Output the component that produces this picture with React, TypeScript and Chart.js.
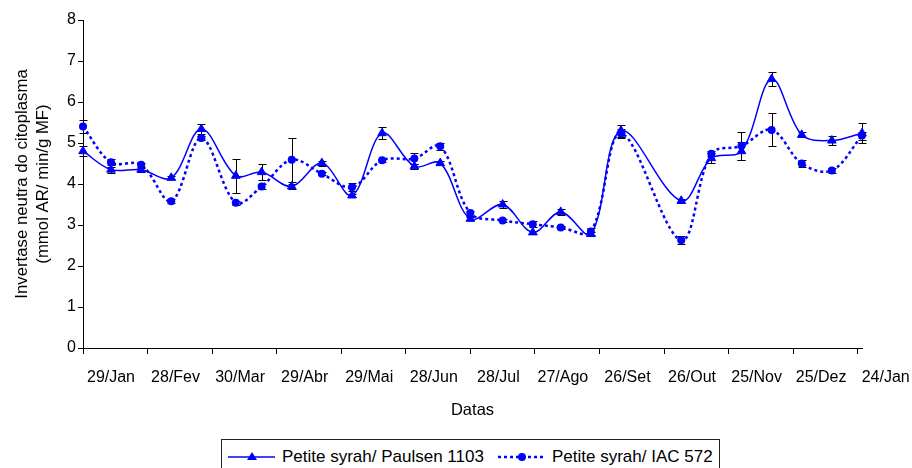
import React, { useEffect, useRef } from 'react';
import { Chart, registerables } from 'chart.js';

Chart.register(...registerables);

// days after 29/Jan
const sampleDays = [0, 13, 27, 41, 55, 71, 83, 97, 111, 125, 139, 154, 166, 180, 195, 209, 222, 236, 250, 278, 292, 306, 320, 334, 348, 362];
const paulsenValues = [4.80, 4.35, 4.35, 4.15, 5.34, 4.20, 4.29, 3.94, 4.51, 3.72, 5.24, 4.43, 4.51, 3.15, 3.50, 2.82, 3.32, 2.78, 5.30, 3.59, 4.63, 4.80, 6.56, 5.20, 5.06, 5.24];
const paulsenErrors = [0.12, 0.07, 0.05, 0.04, 0.12, 0.41, 0.19, 0.05, 0.06, 0.04, 0.15, 0.06, 0.05, 0.04, 0.08, 0.04, 0.08, 0.04, 0.15, 0.05, 0.12, 0.22, 0.18, 0.06, 0.12, 0.25];
const iacValues = [5.40, 4.53, 4.47, 3.58, 5.12, 3.54, 3.94, 4.59, 4.25, 3.92, 4.58, 4.62, 4.92, 3.29, 3.11, 3.02, 2.94, 2.84, 5.23, 2.63, 4.74, 4.93, 5.32, 4.50, 4.33, 5.18];
const iacErrors = [0.15, 0.07, 0.05, 0.05, 0.05, 0.04, 0.05, 0.54, 0.04, 0.10, 0.04, 0.14, 0.08, 0.06, 0.04, 0.07, 0.04, 0.08, 0.10, 0.10, 0.06, 0.35, 0.40, 0.08, 0.07, 0.10];
const tickLabels = ['29/Jan', '28/Fev', '30/Mar', '29/Abr', '29/Mai', '28/Jun', '28/Jul', '27/Ago', '26/Set', '26/Out', '25/Nov', '25/Dez', '24/Jan'];
const tickStepDays = 30;
const seriesNames = ['Petite syrah/ Paulsen 1103', 'Petite syrah/ IAC 572'];
const yTitle = ['Invertase neutra do citoplasma', '(mmol AR/ min/g MF)'];
const xTitle = 'Datas';

const BLUE = '#0000ff';
const FONT = "'Liberation Sans', Arial, sans-serif";

const errorLists = [paulsenErrors, iacErrors];

const errorBarPlugin = {
  id: 'errorBars',
  beforeDatasetsDraw(chart: any) {
    const { ctx } = chart;
    const xs = chart.scales.x;
    const ys = chart.scales.y;
    ctx.save();
    ctx.strokeStyle = '#000';
    ctx.lineWidth = 1;
    chart.data.datasets.forEach((ds: any, i: number) => {
      const errs = errorLists[i];
      ds.data.forEach((p: any, j: number) => {
        const e = errs[j];
        const x = Math.round(xs.getPixelForValue(p.x)) + 0.5;
        const yt = Math.round(ys.getPixelForValue(p.y + e)) + 0.5;
        const yb = Math.round(ys.getPixelForValue(p.y - e)) + 0.5;
        ctx.beginPath();
        ctx.moveTo(x, yt);
        ctx.lineTo(x, yb);
        ctx.moveTo(x - 4, yt);
        ctx.lineTo(x + 4, yt);
        ctx.moveTo(x - 4, yb);
        ctx.lineTo(x + 4, yb);
        ctx.stroke();
      });
    });
    ctx.restore();
  },
};

export default function App() {
  const ref = useRef<HTMLCanvasElement | null>(null);

  useEffect(() => {
    if (!ref.current) return;
    const chart = new Chart(ref.current, {
      type: 'line',
      data: {
        datasets: [
          {
            label: seriesNames[0],
            data: sampleDays.map((d, i) => ({ x: d, y: paulsenValues[i] })),
            borderColor: BLUE,
            backgroundColor: BLUE,
            borderWidth: 1.5,
            pointStyle: 'triangle',
            pointRadius: 5,
            pointBorderWidth: 1,
            tension: 0.35,
            clip: false,
            order: 0,
          },
          {
            label: seriesNames[1],
            data: sampleDays.map((d, i) => ({ x: d, y: iacValues[i] })),
            borderColor: BLUE,
            backgroundColor: BLUE,
            borderWidth: 2.5,
            borderDash: [3, 3],
            pointStyle: 'circle',
            pointRadius: 4,
            pointBorderWidth: 0,
            tension: 0.35,
            clip: false,
            order: 1,
          },
        ],
      },
      options: {
        animation: false,
        responsive: false,
        devicePixelRatio: 1,
        layout: { padding: { left: 0, top: 20, right: 50, bottom: 48 } },
        plugins: {
          legend: { display: false },
          tooltip: { enabled: false },
        },
        scales: {
          x: {
            type: 'linear',
            min: 0,
            max: 362,
            afterFit: (s: any) => { s.height = 72; },
            border: { display: true, color: '#000', width: 1 },
            grid: { display: true, drawOnChartArea: false, drawTicks: true, tickLength: 6, color: '#000' },
            ticks: {
              stepSize: tickStepDays,
              includeBounds: false,
              autoSkip: false,
              maxRotation: 0,
              labelOffset: 28,
              padding: 14,
              color: '#000',
              font: { family: FONT, size: 16 },
              callback: (v: any) => tickLabels[Math.round(Number(v) / tickStepDays)] ?? '',
            },
            title: {
              display: true,
              text: xTitle,
              color: '#000',
              font: { family: FONT, size: 16.5 },
              padding: { top: 0, bottom: 0 },
            },
          },
          y: {
            min: 0,
            max: 8,
            afterFit: (s: any) => { s.width = 83; },
            border: { display: true, color: '#000', width: 1 },
            grid: { display: true, drawOnChartArea: false, drawTicks: true, tickLength: 5, color: '#000' },
            ticks: {
              stepSize: 1,
              padding: 2,
              color: '#000',
              font: { family: FONT, size: 16 },
            },
            title: {
              display: true,
              text: yTitle,
              color: '#000',
              font: { family: FONT, size: 16.8, lineHeight: 1.25 },
              padding: { top: 11.5, bottom: 0 },
            },
          },
        },
      },
      plugins: [errorBarPlugin],
    });
    return () => chart.destroy();
  }, []);

  const legendText: React.CSSProperties = {
    position: 'absolute',
    top: 6,
    lineHeight: '22px',
    fontFamily: FONT,
    fontSize: 17,
    color: '#000',
    whiteSpace: 'nowrap',
  };

  return (
    <div style={{ position: 'absolute', left: 0, top: 0, width: 912, height: 468, background: '#fff', overflow: 'hidden' }}>
      <canvas ref={ref} width={912} height={468} style={{ width: 912, height: 468, display: 'block' }} />
      <div
        style={{
          position: 'absolute',
          left: 221,
          top: 439,
          width: 499,
          height: 40,
          border: '1px solid #222',
          boxSizing: 'border-box',
          background: '#fff',
        }}
      >
        <svg width={497} height={38} style={{ position: 'absolute', left: 0, top: 0 }}>
          <line x1={6} y1={17} x2={53} y2={17} stroke={BLUE} strokeWidth={1.5} />
          <polygon points="30,12 35,20 25,20" fill={BLUE} />
          <line x1={276} y1={17} x2={321} y2={17} stroke={BLUE} strokeWidth={2.5} strokeDasharray="3 3" />
          <circle cx={300} cy={17} r={4} fill={BLUE} />
        </svg>
        <span style={{ ...legendText, left: 60 }}>{seriesNames[0]}</span>
        <span style={{ ...legendText, left: 330 }}>{seriesNames[1]}</span>
      </div>
    </div>
  );
}
